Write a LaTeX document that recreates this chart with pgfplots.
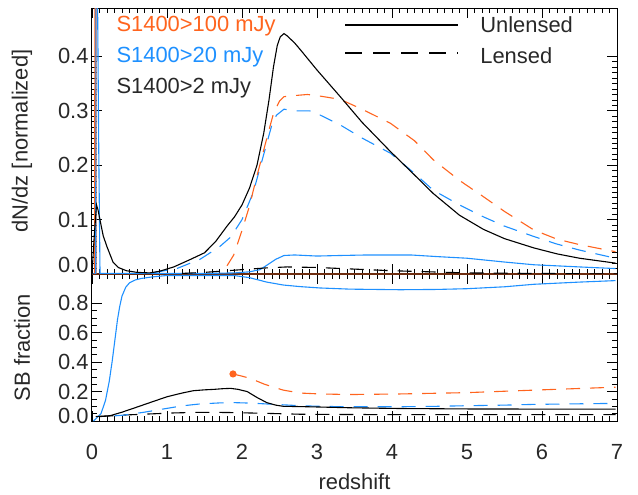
\documentclass[border=0pt]{standalone}
\usepackage{pgfplots}
\pgfplotsset{compat=1.18}
\usepackage{fontspec}
\setmainfont{Liberation Sans}
\definecolor{cOr}{RGB}{255,100,30}
\definecolor{cBl}{RGB}{30,144,255}
\definecolor{cBr}{RGB}{110,45,15}
\definecolor{cTx}{RGB}{40,40,40}
\pgfplotsset{
 myax/.style={
  scale only axis, width=525bp, xmin=0, xmax=7,
  tick align=inside, tick pos=both,
  major tick length=10bp, minor tick length=5bp,
  every tick/.style={black, line width=0.8bp},
  axis line style={line width=1bp},
  minor x tick num=9,
  xtick={0,1,2,3,4,5,6,7},
  tick label style={font=\fontsize{22}{26}\selectfont, text=cTx},
  label style={font=\fontsize{22}{26}\selectfont, text=cTx},
  /pgf/number format/assume math mode=true,
  every axis plot/.append style={line width=1.1bp},
 },
 dsh/.style={dash pattern=on 14bp off 10bp},
}
\begin{document}
\begin{tikzpicture}[font=\fontsize{22}{26}\selectfont]
\path[use as bounding box] (-92bp,-221bp) rectangle (546bp,274bp);
% ---------------- top panel
\begin{axis}[myax, at={(0,0)}, anchor=south west, height=266bp,
  ymin=0, ymax=0.489, ytick={0,0.1,0.2,0.3,0.4},
  yticklabels={\raisebox{18bp}{0.0},0.1,0.2,0.3,0.4},
  minor y tick num=9, xticklabels={},
  ylabel={dN/dz [normalized]},
  ylabel style={at={(axis description cs:-0.1333,0.5)}, anchor=center}]
% S>100 unlensed
\addplot[cBr, line width=1.6bp] coordinates {(0,0) (7,0)};
\addplot[cOr, line width=1.6bp] coordinates {(0.04,0) (0.046,3) (0.052,0)};
% S>20 unlensed
\addplot[cBl] coordinates {(0,0) (0.05,0) (0.062,3) (0.075,0.49) (0.09,0.23) (0.107,0.0) (0.12,0.001) (0.5,0.001) (1.0,0.001) (1.5,0.001) (1.9,0.002) (2.1,0.004) (2.24,0.008) (2.33,0.016) (2.45,0.027) (2.56,0.034) (2.7,0.035) (3.0,0.033) (3.3,0.034) (3.67,0.035) (4.25,0.035) (4.6,0.032) (5.0,0.029) (5.5,0.022) (5.89,0.017) (6.5,0.013) (6.98,0.010)};
% S>2 lensed
\addplot[black, dsh] coordinates {(1.2,0.001) (1.5,0.003) (1.8,0.006) (2.0,0.008) (2.3,0.011) (2.6,0.013) (3.0,0.012) (3.5,0.009) (4.0,0.006) (4.5,0.004) (5.0,0.002) (6.0,0.001) (7,0.0)};
% S>20 lensed
\addplot[cBl, dsh] coordinates {(0.5,0.0) (0.8,0.002) (1.13,0.01) (1.44,0.027) (1.7,0.05) (1.85,0.068) (2.0,0.1) (2.15,0.15) (2.25,0.2) (2.33,0.24) (2.4,0.275) (2.46,0.292) (2.56,0.303) (2.7,0.30) (2.9,0.30) (3.0,0.295) (3.31,0.274) (3.6,0.25) (3.98,0.222) (4.3,0.185) (4.55,0.154) (4.9,0.127) (5.22,0.105) (5.5,0.088) (5.89,0.069) (6.2,0.055) (6.5,0.044) (6.98,0.029)};
% S>100 lensed
\addplot[cOr, dsh] coordinates {(1.80,0.015) (1.89,0.035) (2.0,0.08) (2.1,0.125) (2.18,0.17) (2.29,0.228) (2.36,0.265) (2.42,0.295) (2.5,0.318) (2.56,0.326) (2.7,0.328) (2.87,0.330) (3.0,0.328) (3.31,0.321) (3.6,0.303) (3.98,0.277) (4.3,0.245) (4.55,0.21) (4.9,0.172) (5.22,0.142) (5.5,0.115) (5.89,0.081) (6.2,0.064) (6.5,0.054) (6.98,0.041)};
% S>2 unlensed
\addplot[black] coordinates {(0,0) (0.03,0.07) (0.06,0.127) (0.08,0.118) (0.107,0.099) (0.15,0.07) (0.2,0.05) (0.28,0.022) (0.35,0.012) (0.46,0.006) (0.6,0.003) (0.77,0.002) (0.9,0.005) (1.09,0.013) (1.3,0.026) (1.5,0.039) (1.65,0.06) (1.8,0.088) (1.9,0.105) (2.0,0.127) (2.1,0.158) (2.2,0.2) (2.29,0.259) (2.36,0.32) (2.42,0.381) (2.47,0.42) (2.51,0.436) (2.56,0.442) (2.6,0.438) (2.7,0.425) (2.78,0.412) (3.0,0.375) (3.31,0.326) (3.6,0.279) (3.98,0.225) (4.3,0.182) (4.55,0.148) (4.9,0.108) (5.22,0.082) (5.5,0.065) (5.89,0.048) (6.2,0.037) (6.5,0.029) (6.98,0.020)};
% legends
\node[anchor=base west, text=cOr] at (rel axis cs:0.04,0.9135) {S1400>100 mJy};
\node[anchor=base west, text=cBl] at (rel axis cs:0.04,0.797) {S1400>20 mJy};
\node[anchor=base west, text=cTx] at (rel axis cs:0.04,0.680) {S1400>2 mJy};
\draw[black, line width=1.1bp] (rel axis cs:0.482,0.936) -- (rel axis cs:0.697,0.936);
\draw[black, line width=1.1bp, dash pattern=on 17bp off 11bp] (rel axis cs:0.482,0.831) -- (rel axis cs:0.697,0.831);
\node[anchor=base west, text=cTx] at (rel axis cs:0.733,0.907) {Unlensed};
\node[anchor=base west, text=cTx] at (rel axis cs:0.733,0.792) {Lensed};
\end{axis}
% ---------------- bottom panel
\begin{axis}[myax, at={(0,0)}, anchor=north west, height=147bp,
  ymin=0, ymax=1, ytick={0,0.2,0.4,0.6,0.8},
  yticklabels={\raisebox{10bp}{0.0},0.2,0.4,0.6,0.8},
  minor y tick num=3,
  xticklabel style={yshift=-20bp},
  xlabel={redshift}, ylabel={SB fraction},
  xlabel style={at={(axis description cs:0.5,-0.415)}, anchor=center},
  ylabel style={at={(axis description cs:-0.1333,0.5)}, anchor=center}]
\addplot[cBr, line width=1.6bp] coordinates {(0,1) (7,1)};
% S>20 unlensed
\addplot[cBl] coordinates {(0.02,0.0) (0.12,0.05) (0.18,0.14) (0.23,0.27) (0.27,0.41) (0.31,0.57) (0.34,0.69) (0.37,0.78) (0.40,0.85) (0.45,0.91) (0.5,0.94) (0.58,0.96) (0.66,0.97) (0.8,0.98) (1.0,0.99) (1.5,0.99) (1.89,0.99) (2.1,0.975) (2.33,0.945) (2.55,0.925) (2.78,0.914) (3.04,0.905) (3.44,0.897) (4.11,0.893) (4.6,0.895) (5.0,0.90) (5.5,0.913) (5.89,0.93) (6.5,0.945) (6.98,0.955)};
% S>2 lensed
\addplot[black, dsh] coordinates {(0.1,0.03) (0.4,0.04) (0.77,0.048) (1.1,0.055) (1.44,0.059) (1.8,0.058) (2.33,0.052) (2.78,0.046) (3.5,0.044) (5,0.043) (6.98,0.043)};
% S>20 lensed
\addplot[cBl, dsh] coordinates {(0.3,0.035) (0.42,0.04) (0.7,0.06) (1.0,0.086) (1.2,0.103) (1.44,0.116) (1.7,0.123) (1.89,0.125) (2.1,0.122) (2.33,0.116) (2.55,0.11) (2.78,0.104) (3.1,0.099) (3.44,0.097) (4.11,0.097) (4.6,0.1) (5.0,0.104) (5.5,0.108) (5.89,0.113) (6.5,0.117) (6.98,0.12)};
% S>100 lensed
\addplot[cOr, dsh, mark=*, mark indices={1}, mark size=3bp, mark options={solid, fill=cOr}] coordinates {(1.88,0.32) (2.0,0.305) (2.11,0.29) (2.3,0.25) (2.55,0.21) (2.78,0.19) (3.04,0.184) (3.44,0.18) (4.11,0.184) (5.0,0.193) (5.89,0.21) (6.98,0.23)};
% S>2 unlensed
\addplot[black] coordinates {(0.05,0.03) (0.24,0.036) (0.4,0.06) (0.55,0.086) (0.8,0.13) (1.0,0.165) (1.2,0.19) (1.35,0.206) (1.5,0.212) (1.62,0.215) (1.75,0.22) (1.85,0.222) (1.95,0.215) (2.07,0.2) (2.2,0.16) (2.33,0.125) (2.45,0.108) (2.55,0.10) (2.78,0.098) (3.04,0.095) (3.44,0.09) (4.11,0.085) (5,0.082) (6,0.081) (6.98,0.081)};
\end{axis}
\end{tikzpicture}
\end{document}
